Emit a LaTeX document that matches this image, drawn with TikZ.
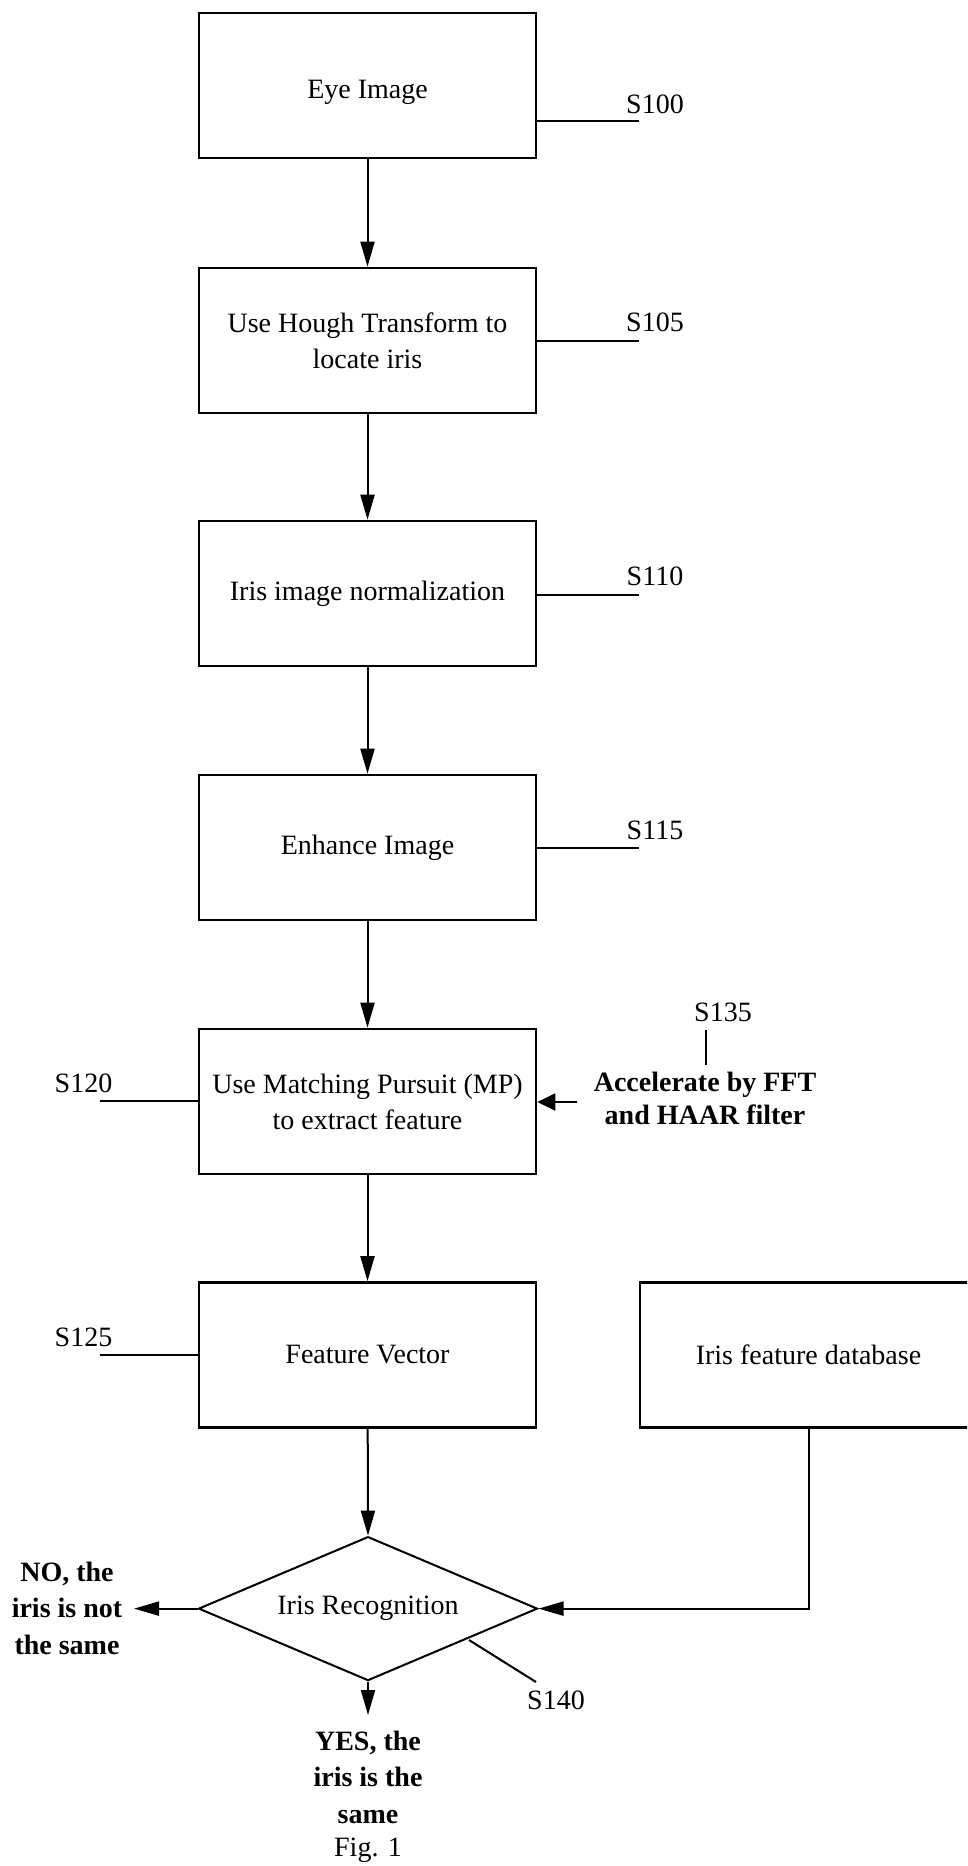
\documentclass[tikz,border=0pt]{standalone}
\usepackage{fontspec}
\setmainfont{Liberation Serif}
\usetikzlibrary{arrows.meta,shapes.geometric}
\begin{document}
\begin{tikzpicture}[x=1pt,y=-1pt,
  stepbox/.style={draw,line width=2.6pt,minimum width=337pt,minimum height=145pt,inner sep=0pt,align=center,font=\fontsize{28}{36}\selectfont},
  lbl/.style={inner sep=0pt,font=\fontsize{28}{34}\selectfont},
  boldlbl/.style={inner sep=0pt,align=center,font=\fontsize{28}{36.5}\selectfont\bfseries},
  arr/.style={line width=2pt,-{Triangle[length=25pt,width=14pt]}},
  ln/.style={line width=2pt}]
\useasboundingbox (0,0) rectangle (967,1866);
\clip (0,0) rectangle (967,1866);
\fill[white] (0,0) rectangle (967,1866);

% boxes
\node[stepbox] (b1) at (367.5,85.5) {\rule{0pt}{33pt}Eye Image};
\node[stepbox] (b2) at (367.5,340.5) {Use Hough Transform to\\locate iris};
\node[stepbox] (b3) at (367.5,593.5) {Iris image normalization};
\node[stepbox] (b4) at (367.5,847.5) {Enhance Image};
\node[stepbox] (b5) at (367.5,1101.5) {Use Matching Pursuit (MP)\\to extract feature};
\node[stepbox] (b6) at (367.5,1355) {Feature Vector};
\node[stepbox] (db) at (808.5,1355) {Iris feature database};
\node[draw,diamond,line width=2pt,minimum width=339pt,minimum height=144pt,inner sep=0pt,aspect=2.35,font=\fontsize{28}{34}\selectfont] (d) at (368,1608.6) {Iris Recognition};

% step labels
\node[lbl] (s100) at (655,104) {S100};
\coordinate (c100) at (639,121);
\draw[ln] (b1.east |- c100) -- (c100);
\node[lbl] (s105) at (655,322) {S105};
\coordinate (c105) at (639,340.5);
\draw[ln] (b2.east |- c105) -- (c105);
\node[lbl] (s110) at (655,576) {S110};
\coordinate (c110) at (639,594.5);
\draw[ln] (b3.east |- c110) -- (c110);
\node[lbl] (s115) at (655,830) {S115};
\coordinate (c115) at (639,848);
\draw[ln] (b4.east |- c115) -- (c115);
\node[lbl] (s120) at (83.5,1083) {S120};
\coordinate (c120) at (100,1101);
\draw[ln] (c120) -- (b5.west |- c120);
\node[lbl] (s125) at (83.5,1337) {S125};
\coordinate (c125) at (100,1355);
\draw[ln] (c125) -- (b6.west |- c125);

% accelerate
\node[lbl] (s135) at (723,1012) {S135};
\coordinate (t135a) at (706,1030);
\coordinate (t135b) at (706,1065);
\draw[ln] (t135a) -- (t135b);
\node[boldlbl,font=\fontsize{28}{33}\selectfont\bfseries] (acc) at (705,1098) {Accelerate by FFT\\and HAAR filter};
\coordinate (accin) at (577,1102);
\draw[ln,-{Triangle[length=18pt,width=17pt]}] (accin) -- (b5.east |- accin);

% main flow
\draw[arr] (b1) -- (b2);
\draw[arr] (b2) -- (b3);
\draw[arr] (b3) -- (b4);
\draw[arr] (b4) -- (b5);
\draw[arr] (b5) -- (b6);
\draw[arr] (b6) -- (d.north);
\draw[arr] (db.south) |- (d.east);

% outcomes
\node[boldlbl] (no) at (67,1608) {NO, the\\iris is not\\the same};
\coordinate (notip) at (134,1608.6);
\draw[arr] (d.west) -- (notip);
\coordinate (yestip) at (368,1715);
\draw[arr] (d.south) -- (yestip);
\node[boldlbl] (yes) at (368,1777) {YES, the\\iris is the\\same};
\node[lbl] (fig) at (368,1850) {Fig. 1};

% S140
\node[lbl] (s140) at (556,1700) {S140};
\coordinate (s140a) at (469,1640);
\coordinate (s140b) at (536,1682);
\draw[ln] (s140a) -- (s140b);
\end{tikzpicture}
\end{document}
